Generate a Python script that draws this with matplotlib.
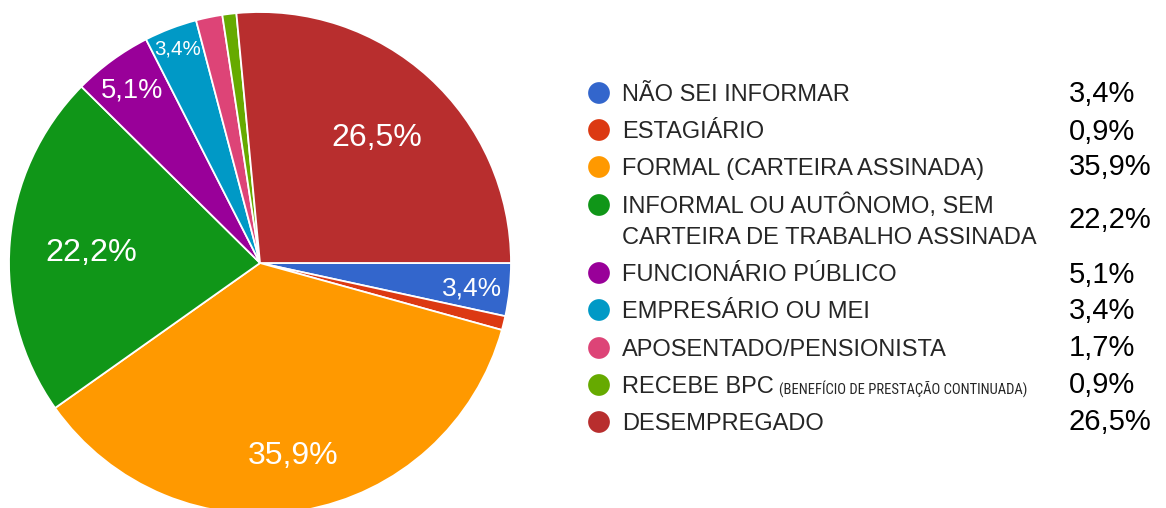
import matplotlib
matplotlib.use('Agg')
import matplotlib.pyplot as plt
from matplotlib import font_manager
import numpy as np

# ---------------- data ----------------
categories = ['NÃO SEI INFORMAR', 'ESTAGIÁRIO', 'FORMAL (CARTEIRA ASSINADA)',
              'INFORMAL OU AUTÔNOMO, SEM\nCARTEIRA DE TRABALHO ASSINADA',
              'FUNCIONÁRIO PÚBLICO', 'EMPRESÁRIO OU MEI', 'APOSENTADO/PENSIONISTA',
              'RECEBE BPC', 'DESEMPREGADO']
category_notes = ['', '', '', '', '', '', '', '(BENEFÍCIO DE PRESTAÇÃO CONTINUADA)', '']
values = [3.4, 0.9, 35.9, 22.2, 5.1, 3.4, 1.7, 0.9, 26.5]
show_slice_label = [True, False, True, True, True, True, False, False, True]

# ---------------- style ----------------
colors = ['#3366cc', '#dc3912', '#ff9900', '#109618', '#990099',
          '#0099c6', '#dd4477', '#66aa00', '#b82e2e']
label_radius = [0.85, 0, 0.765, 0.675, 0.865, 0.92, 0, 0, 0.69]
label_size = [19, 0, 23, 23.3, 19.6, 14.8, 0, 0, 23]
legend_row_y = [93, 130, 167, 205, 273, 310, 348, 385, 422]
value_row_y = [92, 130, 165, 218, 273, 309, 346, 383, 420]

W, H = 1166, 508
BASE = 'Liberation Sans'
plt.rcParams['font.family'] = [BASE, 'DejaVu Sans']


def fmt(v):
    return f'{v:.1f}'.replace('.', ',') + '%'


fig = plt.figure(figsize=(W / 100, H / 100), dpi=100)
fig.patch.set_facecolor('white')

# pie axes: centre (260, 263) px, radius 251 px
cx, cy, r = 260, 263, 251
ax = fig.add_axes([(cx - r) / W, (H - cy - r) / H, 2 * r / W, 2 * r / H])
wedges, _ = ax.pie(values, colors=colors, startangle=0, counterclock=False,
                   wedgeprops=dict(edgecolor='white', linewidth=1.3))
ax.set_xlim(-1, 1)
ax.set_ylim(-1, 1)
ax.set_aspect('equal')
ax.axis('off')

total = float(sum(values))
cum = 0.0
for i, v in enumerate(values):
    mid = -(cum + v / 2) / total * 2 * np.pi
    cum += v
    if not show_slice_label[i]:
        continue
    fr = label_radius[i]
    size = label_size[i]
    cap_pt = 0.716 * size
    ax.annotate(fmt(v), xy=(fr * np.cos(mid), fr * np.sin(mid)),
                xytext=(0, -cap_pt / 2), textcoords='offset points',
                ha='center', va='baseline', color='white', fontsize=size,
                family=[BASE, 'DejaVu Sans'])

# overlay axes in pixel coordinates for legend
lx = fig.add_axes([0, 0, 1, 1])
lx.set_xlim(0, W)
lx.set_ylim(H, 0)
lx.axis('off')
lx.patch.set_alpha(0)

LEG_SIZE = 17
VAL_SIZE = 21
leg_cap_px = 0.716 * LEG_SIZE * 100 / 72
val_cap_px = 0.716 * VAL_SIZE * 100 / 72

# find a condensed font for the note
narrow_family = None
names = {f.name for f in font_manager.fontManager.ttflist}
for cand in ['Liberation Sans Narrow', 'Roboto Condensed', 'Open Sans Condensed',
             'DejaVu Sans Condensed', 'Noto Sans Condensed']:
    if cand in names:
        narrow_family = cand
        break
narrow_stretch = 'normal'
if narrow_family is None:
    for f in font_manager.fontManager.ttflist:
        if str(f.stretch) in ('condensed', 'semi-condensed', 'extra-condensed') and f.style == 'normal':
            narrow_family = f.name
            narrow_stretch = f.stretch
            break
if narrow_family is None:
    narrow_family = BASE

fig.canvas.draw()
renderer = fig.canvas.get_renderer()

for i, cat in enumerate(categories):
    y = legend_row_y[i]
    lx.scatter([599], [y], s=245, color=colors[i], edgecolors='none', zorder=3)
    lines = cat.split('\n')
    last_txt = None
    for k, line in enumerate(lines):
        last_txt = lx.text(622, y + k * 31 + leg_cap_px / 2, line, ha='left', va='baseline',
                           fontsize=LEG_SIZE, color='#262626')
    if category_notes[i]:
        bb = last_txt.get_window_extent(renderer=renderer)
        x0 = bb.x1 + 5
        note = lx.text(x0, y + leg_cap_px / 2, category_notes[i], ha='left', va='baseline',
                       fontsize=12.5, color='#262626', family=[narrow_family, 'DejaVu Sans'],
                       fontstretch=narrow_stretch)
        nb = note.get_window_extent(renderer=renderer)
        target = 1030 - x0
        if nb.width > 0:
            new = 12.5 * target / nb.width
            note.set_fontsize(min(new, 13.5))
    vy = value_row_y[i]
    lx.text(1069, vy + val_cap_px / 2, fmt(values[i]), ha='left', va='baseline',
            fontsize=VAL_SIZE, color='black')

fig.savefig('out.png', dpi=100, facecolor='white')
